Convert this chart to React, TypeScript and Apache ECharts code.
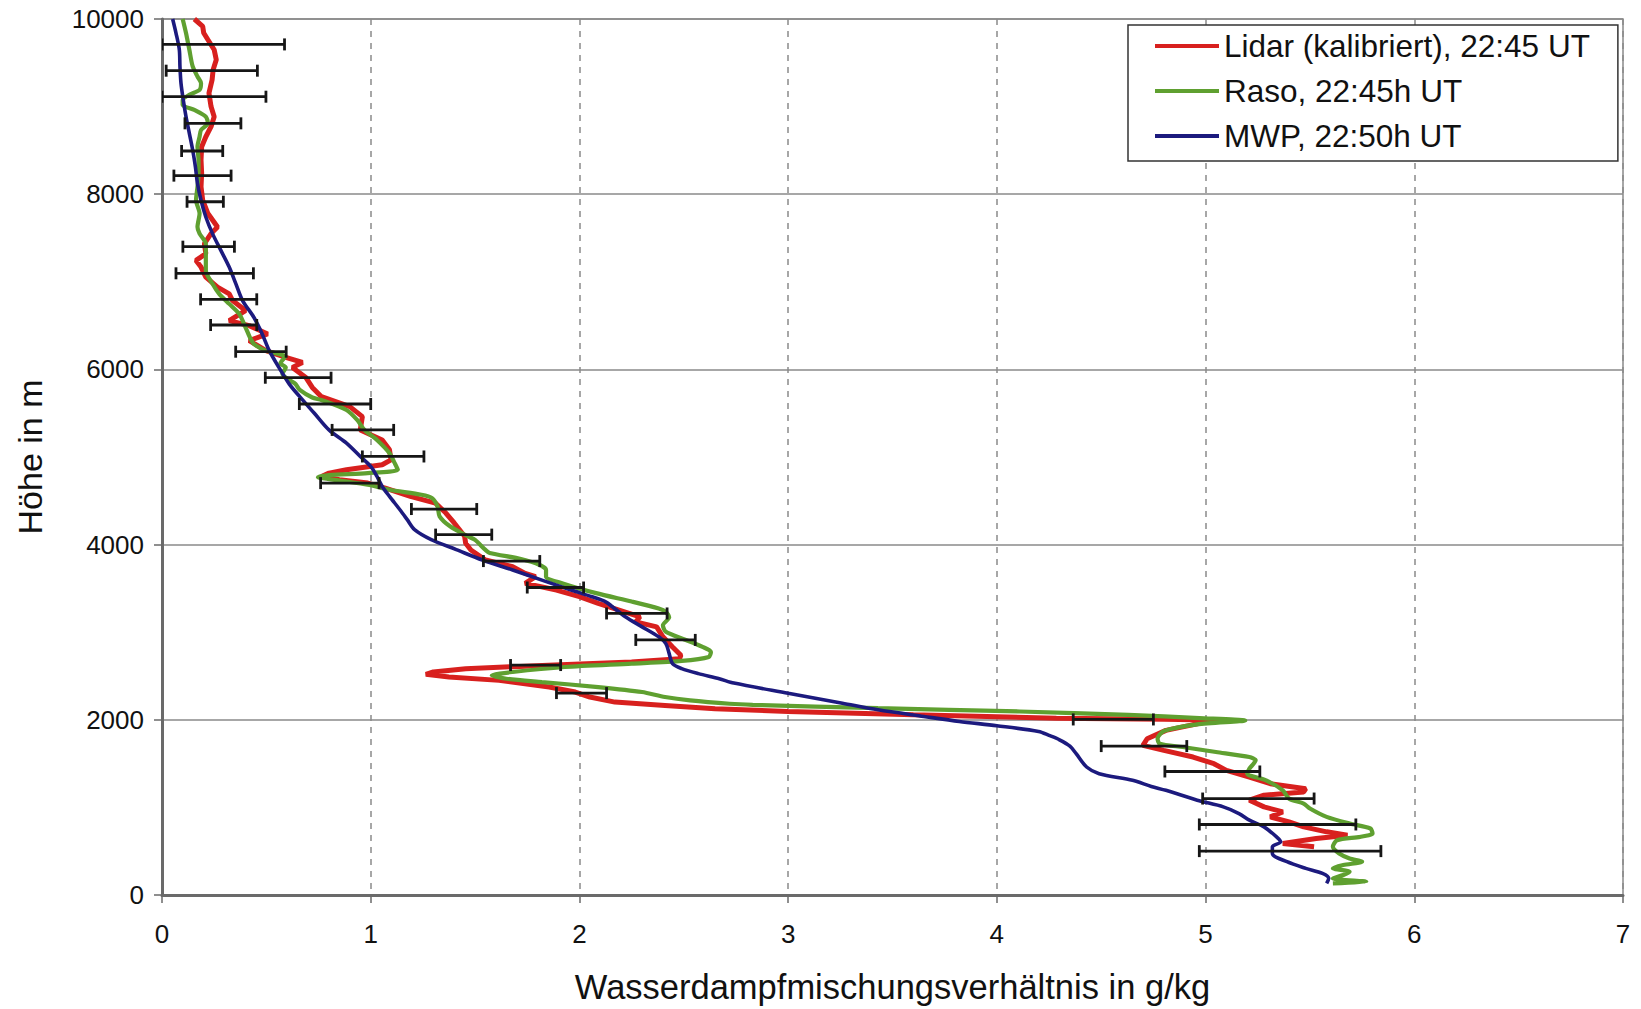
import React, { useEffect, useRef } from "react";
import * as echarts from "echarts";

// [mixing ratio g/kg, height m]
const lidar: [number, number][] = [
  [0.155, 10000], [0.195, 9916], [0.2, 9840], [0.22, 9763], [0.25, 9649], [0.26, 9534], [0.245, 9420],
  [0.24, 9305], [0.225, 9153], [0.235, 9000], [0.25, 8885], [0.235, 8771], [0.21, 8656], [0.19, 8542],
  [0.187, 8389], [0.19, 8237], [0.187, 8084], [0.195, 7931], [0.22, 7779], [0.266, 7626], [0.235, 7550],
  [0.203, 7435], [0.21, 7321], [0.163, 7244], [0.187, 7168], [0.21, 7053], [0.266, 6939], [0.322, 6863],
  [0.338, 6786], [0.4, 6672], [0.322, 6557], [0.418, 6500], [0.506, 6405], [0.418, 6328], [0.498, 6214],
  [0.593, 6137], [0.673, 6080], [0.625, 6023], [0.689, 5908], [0.72, 5794], [0.764, 5689], [0.9, 5575],
  [0.96, 5461], [0.95, 5309], [1.055, 5195], [1.09, 5082], [1.097, 4968], [1.055, 4911], [0.884, 4854],
  [0.8, 4816], [0.764, 4778], [0.85, 4740], [0.986, 4702], [1.07, 4645], [1.19, 4550], [1.31, 4474],
  [1.36, 4360], [1.4, 4247], [1.45, 4095], [1.455, 4015], [1.48, 3939], [1.55, 3824], [1.68, 3748],
  [1.74, 3672], [1.79, 3634], [1.74, 3557], [1.89, 3481], [2.0, 3405], [2.09, 3328], [2.19, 3252],
  [2.29, 3176], [2.27, 3118], [2.37, 3061], [2.4, 2947], [2.446, 2832], [2.486, 2737], [2.48, 2698],
  [2.25, 2660], [1.85, 2622], [1.455, 2584], [1.3, 2546], [1.264, 2519], [1.375, 2489], [1.615, 2450],
  [1.855, 2374], [1.98, 2317], [2.05, 2260], [2.17, 2202], [2.41, 2164], [2.65, 2126], [3.0, 2095],
  [3.6, 2057], [4.285, 2019], [4.8, 2005], [5.1, 1995], [5.0, 1973], [4.81, 1879], [4.72, 1784],
  [4.7, 1708], [4.8, 1651], [4.94, 1575], [5.04, 1499], [5.1, 1423], [5.21, 1347], [5.31, 1271],
  [5.48, 1214], [5.47, 1176], [5.28, 1139], [5.21, 1082], [5.28, 1006], [5.37, 949], [5.31, 892],
  [5.4, 835], [5.47, 778], [5.58, 721], [5.68, 683], [5.53, 645], [5.37, 588], [5.52, 550],
];

const raso: [number, number][] = [
  [0.099, 10000], [0.115, 9840], [0.131, 9649], [0.147, 9458], [0.17, 9344], [0.187, 9267], [0.18, 9191],
  [0.131, 9134], [0.099, 9076], [0.099, 9019], [0.155, 8962], [0.21, 8885], [0.22, 8809], [0.187, 8733],
  [0.18, 8656], [0.17, 8542], [0.175, 8389], [0.175, 8237], [0.17, 8084], [0.163, 7931], [0.18, 7779],
  [0.17, 7626], [0.18, 7550], [0.21, 7435], [0.21, 7282], [0.21, 7130], [0.242, 6977], [0.274, 6863],
  [0.322, 6748], [0.37, 6634], [0.4, 6481], [0.42, 6372], [0.44, 6290], [0.498, 6214], [0.59, 6144],
  [0.567, 6068], [0.593, 6023], [0.577, 5947], [0.61, 5879], [0.64, 5832], [0.66, 5765], [0.72, 5679],
  [0.764, 5651], [0.884, 5537], [0.935, 5423], [0.97, 5309], [1.03, 5195], [1.09, 5044], [1.115, 4930],
  [1.13, 4854], [0.986, 4816], [0.8, 4793], [0.747, 4770], [0.85, 4732], [0.986, 4683], [1.09, 4626],
  [1.243, 4569], [1.294, 4531], [1.32, 4436], [1.33, 4323], [1.38, 4209], [1.465, 4095], [1.5, 4053],
  [1.55, 3939], [1.57, 3905], [1.72, 3835], [1.81, 3767], [1.84, 3710], [1.84, 3634], [1.92, 3557],
  [2.08, 3446], [2.25, 3350], [2.38, 3270], [2.414, 3233], [2.43, 3170], [2.4, 3080], [2.414, 3004],
  [2.5, 2920], [2.59, 2832], [2.63, 2775], [2.62, 2718], [2.49, 2672], [2.25, 2641], [1.93, 2603],
  [1.68, 2546], [1.58, 2508], [1.65, 2469], [1.82, 2431], [2.09, 2374], [2.3, 2317], [2.41, 2260],
  [2.53, 2221], [2.72, 2183], [2.83, 2171], [3.43, 2133], [4.11, 2095], [4.63, 2057], [4.97, 2019],
  [5.19, 1992], [4.96, 1948], [4.8, 1872], [4.77, 1784], [4.78, 1727], [4.89, 1689], [5.05, 1632],
  [5.21, 1575], [5.24, 1537], [5.21, 1442], [5.2, 1385], [5.29, 1309], [5.37, 1195], [5.4, 1100],
  [5.47, 1044], [5.5, 987], [5.58, 892], [5.69, 816], [5.79, 759], [5.8, 702], [5.74, 664], [5.63, 626],
  [5.61, 550], [5.64, 474], [5.69, 417], [5.75, 380], [5.66, 342], [5.61, 304], [5.69, 266], [5.66, 228],
  [5.61, 190], [5.77, 152], [5.61, 133],
];

const mwp: [number, number][] = [
  [0.051, 10000], [0.067, 9840], [0.083, 9649], [0.086, 9458], [0.091, 9267], [0.102, 9076], [0.115, 8885],
  [0.131, 8695], [0.147, 8504], [0.16, 8313], [0.17, 8122], [0.187, 7931], [0.21, 7740], [0.242, 7550],
  [0.282, 7359], [0.322, 7168], [0.354, 6977], [0.386, 6786], [0.44, 6595], [0.48, 6405], [0.514, 6214],
  [0.56, 6023], [0.61, 5832], [0.66, 5689], [0.73, 5499], [0.8, 5309], [0.884, 5158], [0.95, 5006],
  [1.0, 4892], [1.03, 4778], [1.055, 4664], [1.09, 4550], [1.14, 4398], [1.175, 4285], [1.21, 4171],
  [1.29, 4057], [1.41, 3943], [1.535, 3824], [1.68, 3710], [1.82, 3595], [1.96, 3481], [2.06, 3405],
  [2.126, 3347], [2.158, 3290], [2.22, 3176], [2.3, 3061], [2.38, 2947], [2.414, 2870], [2.43, 2756],
  [2.446, 2641], [2.49, 2584], [2.57, 2527], [2.67, 2469], [2.74, 2419], [3.0, 2304], [3.26, 2190],
  [3.43, 2114], [3.65, 2038], [3.82, 1981], [4.0, 1932], [4.2, 1867], [4.25, 1822], [4.3, 1772],
  [4.35, 1700], [4.38, 1613], [4.43, 1461], [4.49, 1385], [4.65, 1309], [4.74, 1239], [4.81, 1195],
  [4.96, 1082], [5.085, 1006], [5.16, 930], [5.21, 854], [5.28, 778], [5.34, 664], [5.36, 607],
  [5.32, 550], [5.32, 474], [5.39, 380], [5.48, 304], [5.56, 247], [5.59, 190], [5.58, 133],
];

// error bars: height, lower, upper
const errHeight = [9710, 9410, 9113, 8809, 8493, 8212, 7914, 7401, 7097, 6800, 6507, 6202, 5905, 5605,
  5309, 5006, 4702, 4406, 4114, 3812, 3510, 3214, 2912, 2625, 2305, 2004, 1700, 1410, 1101, 805, 501];
const errLow = [0.0, 0.02, 0.0, 0.11, 0.094, 0.057, 0.12, 0.1, 0.067, 0.185, 0.233, 0.353, 0.495, 0.658,
  0.815, 0.96, 0.76, 1.195, 1.311, 1.54, 1.75, 2.13, 2.27, 1.67, 1.89, 4.366, 4.5, 4.805, 4.986, 4.97, 4.97];
const errHigh = [0.587, 0.457, 0.498, 0.378, 0.291, 0.331, 0.294, 0.347, 0.438, 0.454, 0.454, 0.595, 0.81,
  1.0, 1.11, 1.255, 1.04, 1.508, 1.58, 1.81, 2.02, 2.42, 2.555, 1.91, 2.13, 4.75, 4.91, 5.26, 5.52, 5.72, 5.84];

const xTicks = [0, 1, 2, 3, 4, 5, 6, 7];
const seriesNames = ["Lidar (kalibriert), 22:45 UT", "Raso, 22:45h UT", "MWP, 22:50h UT"];
const seriesColors = ["#d8201e", "#5fa030", "#1c1a7e"];

export default function App() {
  const ref = useRef<HTMLDivElement>(null);
  useEffect(() => {
    if (!ref.current) return;
    const chart = echarts.init(ref.current, null, { renderer: "svg" });
    const errData = errHeight.map((h, i) => [h, errLow[i], errHigh[i]]);
    const font = "'Liberation Sans', Arial, sans-serif";
    chart.setOption({
      animation: false,
      backgroundColor: "#ffffff",
      textStyle: { fontFamily: font },
      grid: { left: 162, right: 18, top: 19, bottom: 114, show: true, borderColor: "#8a8a8a", borderWidth: 1.5 },
      legend: {
        data: seriesNames,
        orient: "vertical",
        left: 1128,
        top: 25,
        padding: [3, 28, 7, 27],
        itemGap: 9,
        itemWidth: 64,
        itemHeight: 4,
        icon: "rect",
        backgroundColor: "#ffffff",
        borderColor: "#333333",
        borderWidth: 1.5,
        borderRadius: 0,
        textStyle: { fontSize: 31.5, color: "#111111", fontFamily: font, lineHeight: 36 },
      },
      xAxis: {
        type: "value",
        min: 0,
        max: 7,
        interval: 1,
        name: "Wasserdampfmischungsverhältnis in g/kg",
        nameLocation: "middle",
        nameGap: 74,
        nameTextStyle: { fontSize: 34.5, color: "#111111", fontFamily: font },
        axisLine: { show: true, onZero: false, lineStyle: { color: "#6a6a6a", width: 3 } },
        axisTick: { show: true, length: 8, lineStyle: { color: "#6a6a6a", width: 1.5 } },
        axisLabel: { fontSize: 26, color: "#111111", margin: 26, fontFamily: font,
          formatter: (v: number) => (xTicks.includes(v) ? String(v) : "") },
        splitLine: { show: true, lineStyle: { color: "#8a8a8a", type: [6, 6], width: 1.5 } },
      },
      yAxis: {
        type: "value",
        min: 0,
        max: 10000,
        interval: 2000,
        name: "Höhe in m",
        nameLocation: "middle",
        nameGap: 115,
        nameRotate: 90,
        nameTextStyle: { fontSize: 34, color: "#111111", fontFamily: font },
        axisLine: { show: true, onZero: false, lineStyle: { color: "#6a6a6a", width: 3 } },
        axisTick: { show: true, length: 8, lineStyle: { color: "#6a6a6a", width: 1.5 } },
        axisLabel: { fontSize: 26, color: "#111111", margin: 18, fontFamily: font,
          formatter: (v: number) => String(v) },
        splitLine: { show: true, lineStyle: { color: "#8a8a8a", width: 1.5 } },
      },
      series: [
        {
          name: seriesNames[0], type: "line", data: lidar, showSymbol: false, smooth: false,
          lineStyle: { color: seriesColors[0], width: 5 }, itemStyle: { color: seriesColors[0] }, z: 2,
        },
        {
          name: seriesNames[1], type: "line", data: raso, showSymbol: false, smooth: 0.25,
          lineStyle: { color: seriesColors[1], width: 4.2 }, itemStyle: { color: seriesColors[1] }, z: 3,
        },
        {
          name: seriesNames[2], type: "line", data: mwp, showSymbol: false, smooth: 0.3,
          lineStyle: { color: seriesColors[2], width: 3.6 }, itemStyle: { color: seriesColors[2] }, z: 4,
        },
        {
          name: "err", type: "custom", data: errData, z: 5, clip: true,
          encode: { x: [1, 2], y: 0 },
          renderItem: (params: any, api: any) => {
            const h = api.value(0);
            const p1 = api.coord([api.value(1), h]);
            const p2 = api.coord([api.value(2), h]);
            const c = 6;
            const st = { stroke: "#161616", lineWidth: 2.8 };
            return {
              type: "group",
              children: [
                { type: "line", shape: { x1: p1[0], y1: p1[1], x2: p2[0], y2: p2[1] }, style: st },
                { type: "line", shape: { x1: p1[0], y1: p1[1] - c, x2: p1[0], y2: p1[1] + c }, style: st },
                { type: "line", shape: { x1: p2[0], y1: p2[1] - c, x2: p2[0], y2: p2[1] + c }, style: st },
              ],
            };
          },
        },
      ],
    });
    return () => chart.dispose();
  }, []);
  return (
    <div
      ref={ref}
      style={{ position: "fixed", left: 0, top: 0, width: 1641, height: 1009, background: "#fff" }}
    />
  );
}
